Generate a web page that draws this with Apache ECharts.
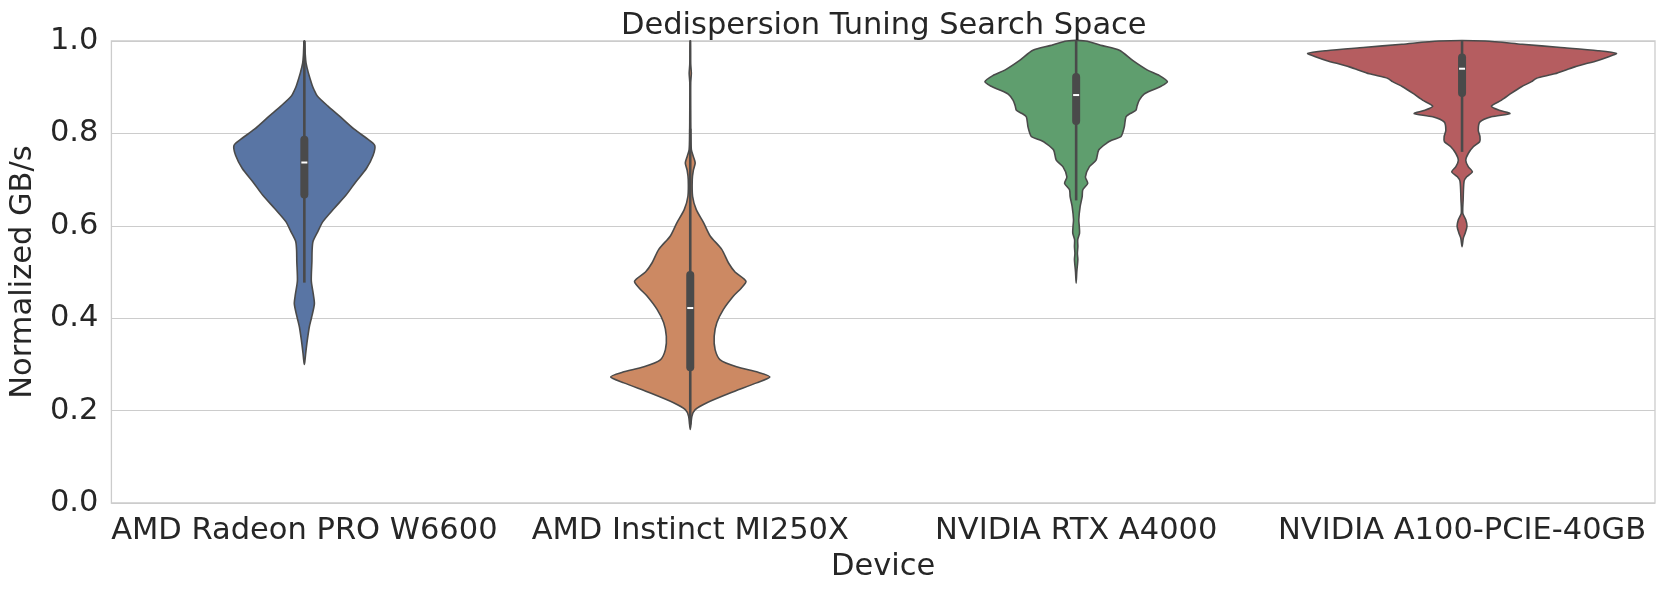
<!DOCTYPE html>
<html>
<head>
<meta charset="utf-8">
<script src="https://cdn.jsdelivr.net/npm/echarts@6/dist/echarts.min.js"></script>
<style>
html,body{margin:0;padding:0;background:#fff;}
#chart{width:1666px;height:590px;}
</style>
</head>
<body>
<div id="chart"></div>
<script>
// ---------- DATA ----------
const devices = ['AMD Radeon PRO W6600', 'AMD Instinct MI250X', 'NVIDIA RTX A4000', 'NVIDIA A100-PCIE-40GB'];
const yTicks = [0.0, 0.2, 0.4, 0.6, 0.8, 1.0];
const titleText = 'Dedispersion Tuning Search Space';
const xName = 'Device';
const yName = 'Normalized GB/s';

// KDE outline per device: [value, relative density] (1 = widest violin)
const w6600Density = [
  [1.0, 0.002], [0.97, 0.006], [0.952, 0.011], [0.931, 0.026], [0.905, 0.05], [0.895, 0.062],
  [0.881, 0.084], [0.859, 0.153], [0.838, 0.226], [0.809, 0.323], [0.788, 0.409],
  [0.774, 0.456], [0.752, 0.445], [0.724, 0.402], [0.695, 0.333], [0.666, 0.269],
  [0.638, 0.194], [0.609, 0.120], [0.588, 0.088], [0.566, 0.056], [0.545, 0.050],
  [0.524, 0.049], [0.481, 0.045], [0.452, 0.058], [0.431, 0.065], [0.402, 0.047],
  [0.381, 0.032], [0.352, 0.019], [0.325, 0.009], [0.309, 0.004], [0.300, 0]
];
const mi250xDensity = [
  [1.0, 0.002], [0.95, 0.003], [0.93, 0.007], [0.91, 0.003], [0.85, 0.003], [0.80, 0.004],
  [0.765, 0.007], [0.75, 0.02], [0.736, 0.032], [0.72, 0.02], [0.70, 0.013], [0.664, 0.015],
  [0.635, 0.039], [0.607, 0.086], [0.578, 0.129], [0.549, 0.204], [0.520, 0.247],
  [0.50, 0.29], [0.480, 0.361], [0.465, 0.33], [0.448, 0.28], [0.419, 0.215],
  [0.390, 0.172], [0.361, 0.155], [0.332, 0.161], [0.310, 0.194], [0.295, 0.30],
  [0.283, 0.44], [0.273, 0.516], [0.260, 0.43], [0.238, 0.258], [0.217, 0.108],
  [0.202, 0.032], [0.188, 0.011], [0.159, 0]
];
const a4000Density = [
  [1.0, 0.06], [0.99, 0.17], [0.98, 0.28], [0.958, 0.366], [0.937, 0.462], [0.925, 0.54],
  [0.912, 0.591], [0.902, 0.55], [0.894, 0.495], [0.885, 0.44], [0.872, 0.409],
  [0.860, 0.395], [0.850, 0.387], [0.843, 0.35], [0.836, 0.323], [0.814, 0.312],
  [0.800, 0.30], [0.793, 0.29], [0.785, 0.23], [0.778, 0.194], [0.764, 0.146],
  [0.742, 0.129], [0.728, 0.086], [0.706, 0.06], [0.692, 0.075], [0.678, 0.043],
  [0.663, 0.039], [0.642, 0.026], [0.613, 0.017], [0.600, 0.02], [0.584, 0.022],
  [0.570, 0.01], [0.555, 0.011], [0.540, 0.008], [0.527, 0.011], [0.50, 0.004], [0.476, 0]
];
const a100Density = [
  [1.0, 0.15], [0.993, 0.39], [0.986, 0.64], [0.979, 0.88], [0.973, 1.0], [0.966, 0.95],
  [0.958, 0.88], [0.944, 0.73], [0.929, 0.60], [0.919, 0.48], [0.912, 0.45],
  [0.901, 0.385], [0.887, 0.32], [0.872, 0.256], [0.859, 0.19], [0.850, 0.24],
  [0.843, 0.31], [0.836, 0.19], [0.825, 0.116], [0.807, 0.105], [0.793, 0.116],
  [0.782, 0.114], [0.771, 0.073], [0.757, 0.041], [0.742, 0.024], [0.728, 0.04],
  [0.717, 0.067], [0.706, 0.03], [0.696, 0.013], [0.656, 0.007], [0.627, 0.005],
  [0.613, 0.024], [0.599, 0.032], [0.584, 0.02], [0.573, 0.008], [0.555, 0]
];
const densities = [w6600Density, mi250xDensity, a4000Density, a100Density];

// inner box statistics
const q1 = [0.659, 0.285, 0.818, 0.879];
const medians = [0.737, 0.422, 0.883, 0.940];
const q3 = [0.795, 0.502, 0.931, 0.973];
const whiskerLow = [0.477, 0.170, 0.655, 0.760];
const whiskerHigh = [1.0, 0.81, 1.0, 1.0];

// ---------- STYLE ----------
const colors = ['#5975a4', '#cc8963', '#5f9e6e', '#b55d60'];
const lineColor = '#4a4a4a';
const textColor = '#262626';
const gridColor = '#cccccc';
const FONT = 'DejaVu Sans';
const FS = 30.5;

const chart = echarts.init(document.getElementById('chart'), null, {renderer: 'canvas'});

function renderViolin(params, api) {
  const i = api.value(0);
  const dens = densities[i];
  const band = api.size([1, 0])[0];
  const scale = 0.4 * band;
  const cx = api.coord([i, 0])[0];
  const right = dens.map(p => [cx + p[1] * scale, api.coord([i, p[0]])[1]]);
  const left = dens.filter(p => p[1] > 0).map(p => [cx - p[1] * scale, api.coord([i, p[0]])[1]]).reverse();
  const pts = right.concat(left);
  const yQ1 = api.coord([i, q1[i]])[1];
  const yQ3 = api.coord([i, q3[i]])[1];
  const yMed = api.coord([i, medians[i]])[1];
  const yWl = api.coord([i, whiskerLow[i]])[1];
  const yWh = api.coord([i, whiskerHigh[i]])[1];
  const boxW = 8;
  return {
    type: 'group',
    children: [
      {
        type: 'polygon',
        shape: {points: pts, smooth: 0.25},
        style: {fill: colors[i], stroke: lineColor, lineWidth: 1.6, lineJoin: 'round'}
      },
      {
        type: 'line',
        shape: {x1: cx, y1: yWl, x2: cx, y2: yWh},
        style: {stroke: lineColor, lineWidth: 2.6}
      },
      {
        type: 'rect',
        shape: {x: cx - boxW / 2, y: yQ3, width: boxW, height: yQ1 - yQ3, r: 4},
        style: {fill: lineColor}
      },
      {
        type: 'rect',
        shape: {x: cx - 3, y: yMed - 1, width: 6, height: 2},
        style: {fill: '#ffffff'}
      }
    ]
  };
}

const option = {
  backgroundColor: '#ffffff',
  animation: false,
  title: {
    text: titleText,
    left: 616,
    top: 6,
    textStyle: {fontFamily: FONT, fontSize: FS, fontWeight: 'normal', color: textColor}
  },
  grid: {
    left: 106, right: 11, top: 41, bottom: 87,
    show: true, borderColor: gridColor, borderWidth: 1.3, backgroundColor: 'transparent'
  },
  xAxis: {
    type: 'category',
    data: devices,
    name: xName,
    nameLocation: 'middle',
    nameGap: 47,
    nameTextStyle: {fontFamily: FONT, fontSize: FS, color: textColor},
    axisLine: {show: false},
    axisTick: {show: false},
    splitLine: {show: false},
    axisLabel: {fontFamily: FONT, fontSize: FS, color: textColor, margin: 13, interval: 0}
  },
  yAxis: {
    type: 'value',
    min: yTicks[0],
    max: yTicks[yTicks.length - 1],
    interval: yTicks[1] - yTicks[0],
    name: yName,
    nameLocation: 'middle',
    nameGap: 52,
    nameTextStyle: {fontFamily: FONT, fontSize: FS, color: textColor},
    axisLine: {show: false},
    axisTick: {show: false},
    splitLine: {show: true, lineStyle: {color: gridColor, width: 1.2}},
    axisLabel: {fontFamily: FONT, fontSize: FS, color: textColor, margin: 13,
      padding: [3, 0, 0, 0],
      formatter: v => v.toFixed(1)}
  },
  series: [{
    type: 'custom',
    renderItem: renderViolin,
    data: devices.map((d, i) => [i, medians[i]]),
    encode: {x: 0, y: 1},
    clip: false,
    z: 3
  }]
};
chart.setOption(option);
</script>
</body>
</html>
